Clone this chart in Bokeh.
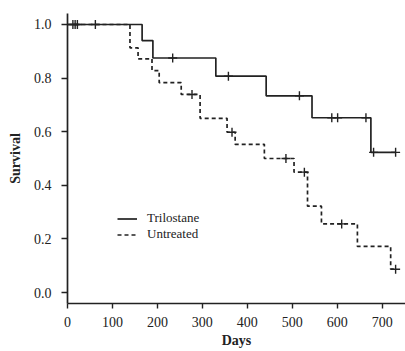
import numpy as np
from bokeh.plotting import figure
from bokeh.models import Range1d, FixedTicker, Legend, LegendItem
from bokeh.embed import file_html
from bokeh.resources import INLINE

# --- data ---
tri_times = [0, 166, 190, 330, 442, 544, 675, 730]
tri_surv = [1.0, 0.94, 0.875, 0.807, 0.734, 0.652, 0.523, 0.523]
tri_censor = [12, 17, 22, 62, 234, 358, 516, 588, 601, 664, 681, 730]

unt_times = [0, 139, 157, 188, 204, 253, 295, 355, 373, 438, 504, 534, 565, 645, 719, 730]
unt_surv = [1.0, 0.913, 0.872, 0.828, 0.783, 0.739, 0.65, 0.598, 0.553, 0.5, 0.449,
            0.322, 0.256, 0.172, 0.087, 0.087]
unt_censor = [277, 366, 486, 527, 610, 730]

x_ticks = [0, 100, 200, 300, 400, 500, 600, 700]
y_ticks = [0.0, 0.2, 0.4, 0.6, 0.8, 1.0]
y_tick_labels = ["0.0", "0.2", "0.4", "0.6", "0.8", "1.0"]
series_names = ["Trilostane", "Untreated"]


def surv_at(times, surv, t):
    idx = np.searchsorted(np.array(times), np.array(t), side="right") - 1
    return list(np.array(surv)[idx])


INK = "#222222"
FONT = "Liberation Serif"

p = figure(width=405, height=351, output_backend="svg", toolbar_location=None,
           x_range=Range1d(0, 752), y_range=Range1d(-0.041, 1.041),
           min_border_left=67, min_border_right=0, min_border_top=13, min_border_bottom=48)
p.outline_line_color = None
p.grid.visible = False
p.background_fill_color = "white"
p.border_fill_color = "white"

r1 = p.step(tri_times, tri_surv, mode="after", line_color=INK, line_width=1.7)
p.scatter(tri_censor, surv_at(tri_times, tri_surv, tri_censor), marker="cross",
          size=9, line_color=INK, line_width=1.4)

r2 = p.step(unt_times, unt_surv, mode="after", line_color=INK, line_width=1.7,
            line_dash="4 3")
p.scatter(unt_censor, surv_at(unt_times, unt_surv, unt_censor), marker="cross",
          size=9, line_color=INK, line_width=1.4)

# axes
for ax in (p.xaxis[0], p.yaxis[0]):
    ax.axis_line_color = INK
    ax.axis_line_width = 1.7
    ax.major_tick_line_color = INK
    ax.major_tick_line_width = 1.4
    ax.minor_tick_line_color = None
    ax.major_tick_in = 0
    ax.major_label_text_font = FONT
    ax.major_label_text_font_size = "14px"
    ax.major_label_text_color = INK
    ax.axis_label_text_font = FONT
    ax.axis_label_text_font_style = "bold"
    ax.axis_label_text_font_size = "14px"
    ax.axis_label_text_color = INK

p.xaxis[0].ticker = FixedTicker(ticks=x_ticks)
p.xaxis[0].major_tick_out = 5
p.xaxis[0].major_label_standoff = 8
p.xaxis[0].axis_label = "Days"
p.xaxis[0].axis_label_standoff = 3

p.yaxis[0].ticker = FixedTicker(ticks=y_ticks)
p.yaxis[0].major_label_overrides = {t: l for t, l in zip(y_ticks, y_tick_labels)}
p.yaxis[0].major_tick_out = 6
p.yaxis[0].major_label_standoff = 10
p.yaxis[0].axis_label = "Survival"
p.yaxis[0].axis_label_standoff = 8

legend = Legend(items=[LegendItem(label=series_names[0], renderers=[r1]),
                       LegendItem(label=series_names[1], renderers=[r2])],
                location=(50, 61), background_fill_alpha=0, border_line_color=None,
                glyph_width=20, glyph_height=15, label_height=15, spacing=0,
                label_standoff=10, padding=0, margin=0,
                label_text_font=FONT, label_text_font_size="13px",
                label_text_color=INK)
p.add_layout(legend)

open("out.html", "w").write(file_html(p, INLINE))
